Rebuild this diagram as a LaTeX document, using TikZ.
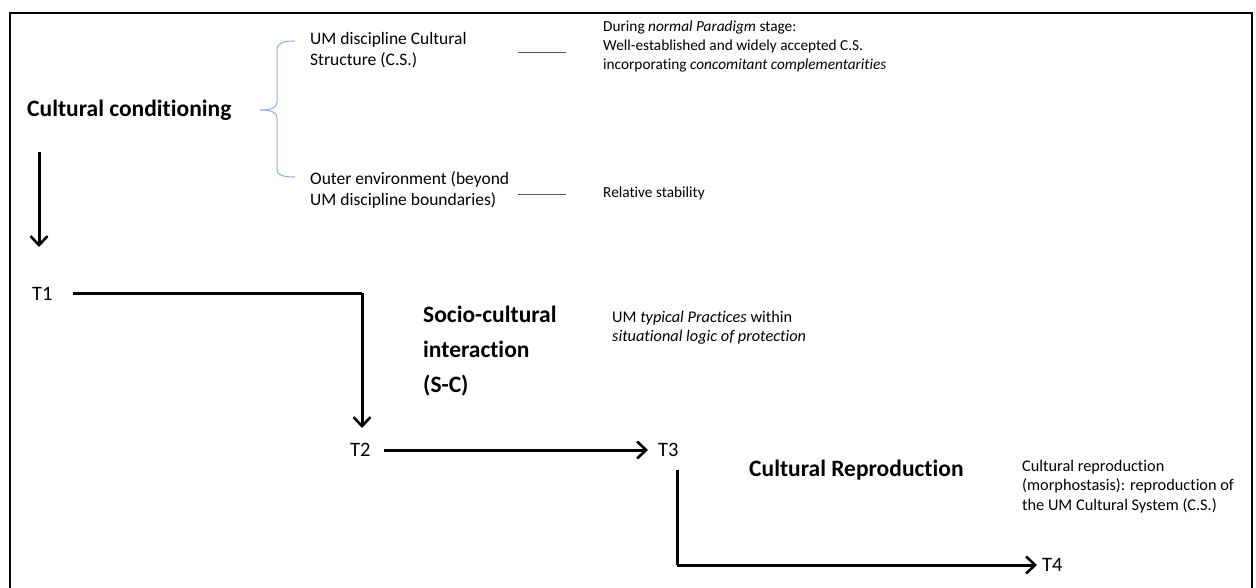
\documentclass[tikz,border=0pt]{standalone}
\usepackage{fontspec}
\setmainfont{Carlito}[Ligatures=NoCommon]
\usetikzlibrary{arrows.meta}
\definecolor{bracketblue}{HTML}{8EAADB}
\begin{document}
\begin{tikzpicture}[x=1pt,y=-1pt,
  heading/.style={font=\fontsize{23.5}{35}\selectfont\bfseries, inner sep=0pt, anchor=west, align=left},
  label/.style={font=\fontsize{17.5}{21}\selectfont, inner sep=0pt, anchor=west, align=left},
  note/.style={font=\fontsize{15.3}{18.7}\selectfont, inner sep=0pt, anchor=west, align=left},
  notebig/.style={note, font=\fontsize{16.3}{19.2}\selectfont},
  timept/.style={font=\fontsize{20.5}{24}\selectfont, inner sep=0pt, anchor=west},
  flow/.style={line width=3pt, -{Straight Barb[length=9pt,width=17pt,line width=2.6pt]}},
  flowline/.style={line width=3pt},
  tick/.style={gray!70!black, line width=0.8pt}]
\useasboundingbox (0,0) rectangle (1256,588);
% open frame
\draw[line width=2pt] (10,588) -- (10,13) -- (1252,13) -- (1252,588);

% cultural conditioning and its two components
\node[heading] (cc) at (27,110) {Cultural conditioning};
\draw[bracketblue, line width=1pt]
  (295,41) .. controls (283,41) and (277,43) .. (277,50) -- (277,102)
  .. controls (277,108) and (271,110) .. (260,110)
  .. controls (271,110) and (277,112) .. (277,118) -- (277,170)
  .. controls (277,175) and (283,177) .. (295,177);
\node[label] (cs) at (310,50.5) {UM discipline Cultural\\Structure (C.S.)};
\node[label] (env) at (310,190) {Outer environment (beyond\\UM discipline boundaries)};
\node[note] (para) at (603,46.5) {During \textit{normal Paradigm} stage:\\Well-established and widely accepted C.S.\\incorporating \textit{concomitant complementarities}};
\node[note] (stab) at (603,193) {Relative stability};
\coordinate (csR) at (518,52);
\coordinate (envR) at (518,194);
\draw[tick] (csR) -- (csR -| 566,0);
\draw[tick] (envR) -- (envR -| 566,0);

% time points
\node[timept] (t1) at (32,294) {T1};
\node[timept] (t2) at (350,450) {T2};
\node[timept] (t3) at (658,450) {T3};
\node[timept] (t4) at (1042,565) {T4};

% conditioning leads to T1
\coordinate (downA) at (39,152);
\coordinate (downB) at (39,247);
\draw[flow] (downA) -- (downB);

% T1 to T2: socio-cultural interaction
\coordinate (bend1) at (362,293);
\draw[flowline] (73,293) -- (bend1);
\draw[flow] (bend1) -- (bend1 |- 0,428);
\node[heading] (sc) at (423,351) {Socio-cultural\\interaction\\(S-C)};
\node[notebig] (prac) at (612,327.5) {UM \textit{typical Practices} within\\\textit{situational logic of protection}};

% T2 to T3
\draw[flow] (384,450) -- ([xshift=-10pt]t3.west);

% T3 to T4: cultural reproduction
\coordinate (bend2) at (677,565);
\draw[flowline] (677,470) -- (bend2);
\draw[flow] (bend2) -- ([xshift=-5pt]t4.west);
\node[heading] (cr) at (749,470) {Cultural Reproduction};
\node[notebig] (morph) at (1022,486.5) {Cultural reproduction\\(morphostasis): reproduction of\\the UM Cultural System (C.S.)};
\end{tikzpicture}
\end{document}
